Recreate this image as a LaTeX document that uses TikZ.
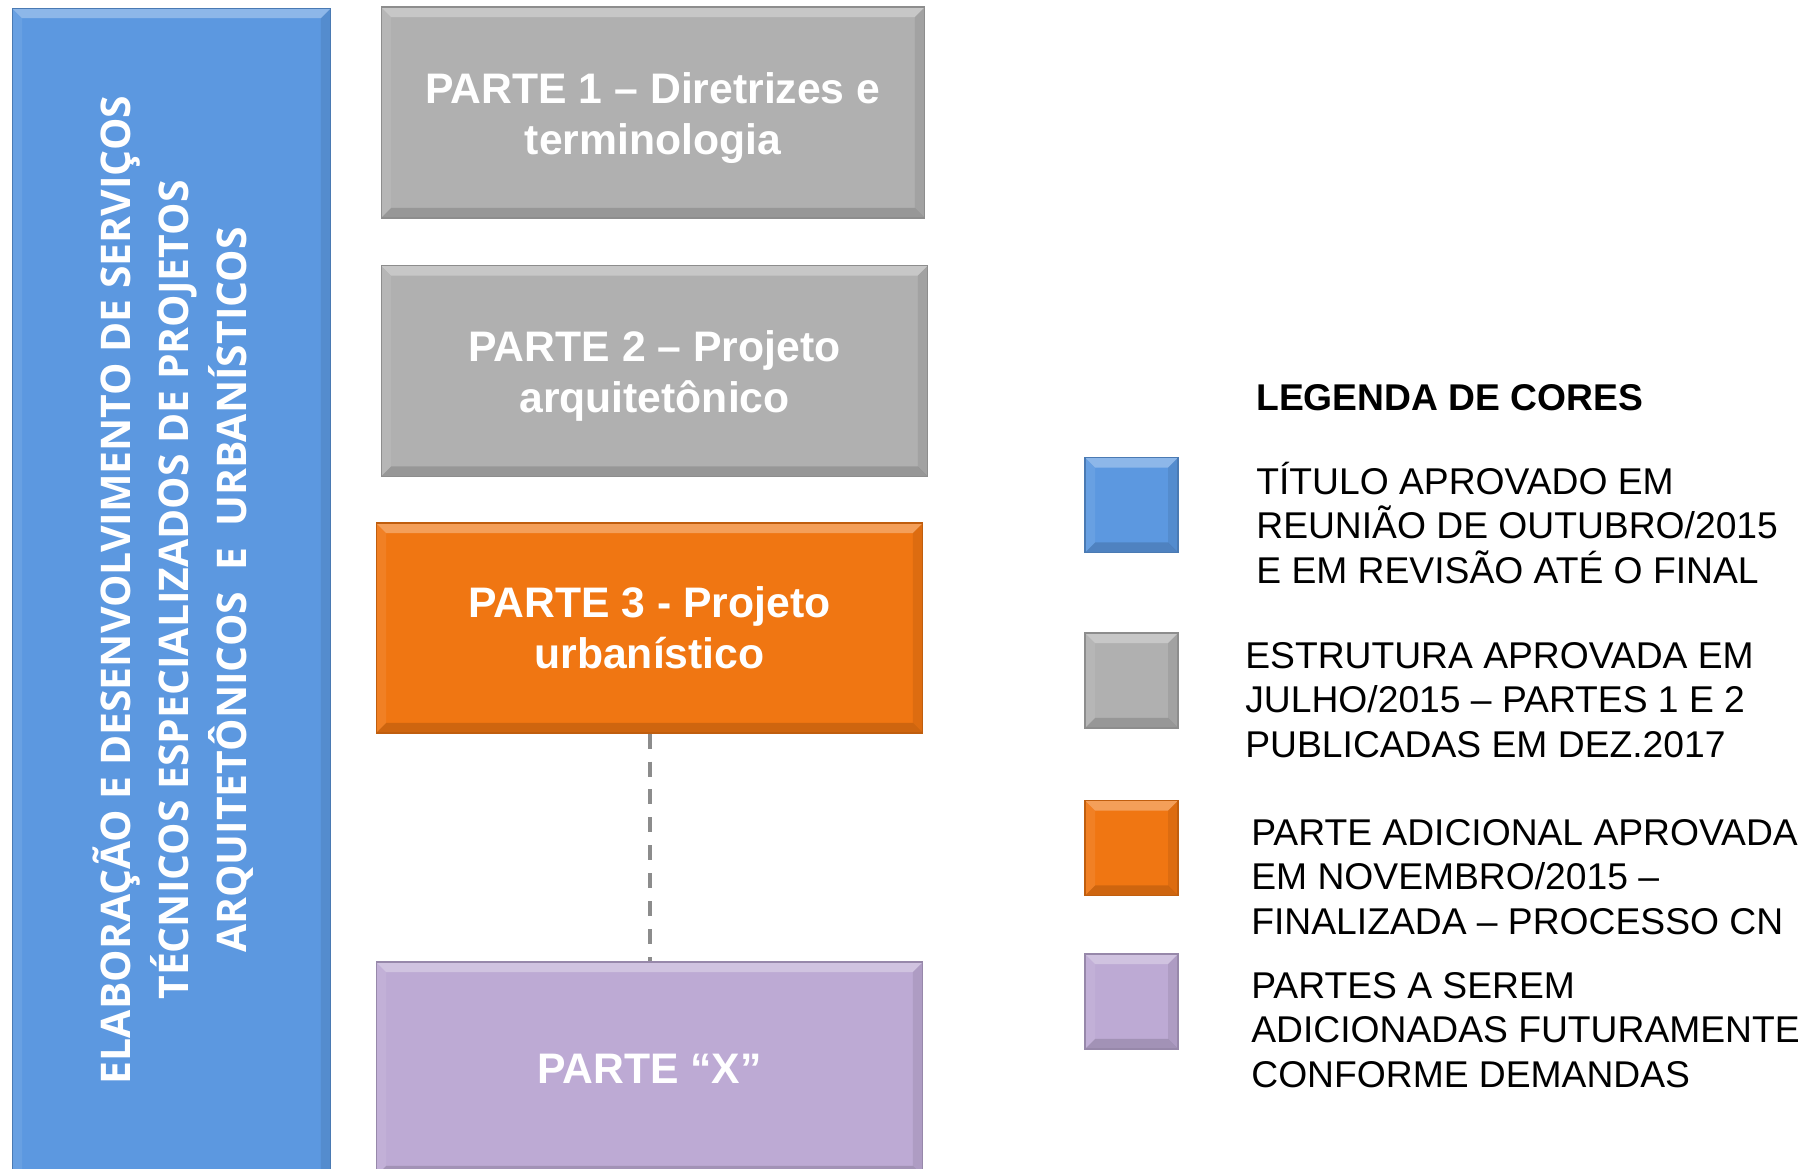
\documentclass[tikz,border=0pt]{standalone}
\usepackage{fontspec}
\setmainfont{Liberation Sans}
\newfontfamily\sidefont{Open Sans}
\definecolor{barblue}{HTML}{5C98E0}
\definecolor{partgray}{HTML}{B0B0B0}
\definecolor{partorange}{HTML}{F07612}
\definecolor{partpurple}{HTML}{BDAAD4}
\definecolor{dashgray}{HTML}{8C8C8C}
\newcommand{\pbb}{path picture bounding box}

\begin{document}
\begin{tikzpicture}[x=0.02cm,y=-0.02cm,
  bevel/.style={path picture={
    \fill[white,opacity=0.3] (\pbb.north west) -- (\pbb.north east) -- ([xshift=-0.2cm,yshift=-0.2cm]\pbb.north east) -- ([xshift=0.2cm,yshift=-0.2cm]\pbb.north west) -- cycle;
    \fill[white,opacity=0.08] (\pbb.north west) -- ([xshift=0.2cm,yshift=-0.2cm]\pbb.north west) -- ([xshift=0.2cm,yshift=0.2cm]\pbb.south west) -- (\pbb.south west) -- cycle;
    \fill[black,opacity=0.08] (\pbb.north east) -- ([xshift=-0.2cm,yshift=-0.2cm]\pbb.north east) -- ([xshift=-0.2cm,yshift=0.2cm]\pbb.south east) -- (\pbb.south east) -- cycle;
    \fill[black,opacity=0.14] (\pbb.south west) -- ([xshift=0.2cm,yshift=0.2cm]\pbb.south west) -- ([xshift=-0.2cm,yshift=0.2cm]\pbb.south east) -- (\pbb.south east) -- cycle;
  }},
  partbox/.style={bevel, draw=#1!80!black, line width=0.6pt, fill=#1, text=white, align=center, inner sep=0pt, minimum width=10.94cm, minimum height=4.22cm, font=\bfseries\fontsize{24.3pt}{29pt}\selectfont},
  keybox/.style={bevel, draw=#1!80!black, line width=0.6pt, fill=#1, inner sep=0pt, minimum width=1.86cm, minimum height=1.9cm},
  keytext/.style={anchor=west, align=left, inner sep=0pt, font=\fontsize{21.2pt}{25.5pt}\selectfont}]
\useasboundingbox (0,0) rectangle (1810,1169);
\clip (0,0) rectangle (1810,1169);
\node[bevel, draw=barblue!80!black, line width=0.6pt, fill=barblue, inner sep=0pt, minimum width=6.38cm, minimum height=23.54cm] (bar) at (171.5,596.5) {};
\node[rotate=90, align=center, text=white, font=\sidefont\bfseries\fontsize{23.25pt}{33pt}\selectfont] (bartext) at (173,590) {ELABORAÇÃO E DESENVOLVIMENTO DE SERVIÇOS\\TÉCNICOS ESPECIALIZADOS DE PROJETOS\\ARQUITETÔNICOS\ \ E\ \ URBANÍSTICOS};
\node[partbox=partgray, minimum width=10.88cm, text height=1.86cm] (part1) at (653,112.5) {PARTE 1 – Diretrizes e\\terminologia};
\node[partbox=partgray, text height=1.82cm] (part2) at (654.5,371) {PARTE 2 – Projeto\\arquitetônico};
\node[partbox=partorange, minimum height=4.2cm] (part3) at (649.5,628) {PARTE 3 - Projeto\\urbanístico};
\node[partbox=partpurple, minimum height=4.28cm] (partx) at (649.5,1069) {PARTE “X”};
\path[draw,dashgray,line width=0.08cm,dash pattern=on 0.3cm off 0.26cm] (part3) -- (partx);
\node[keytext, font=\bfseries\fontsize{21.2pt}{25.5pt}\selectfont] (keytitle) at (1256,398) {LEGENDA DE CORES};
\node[keybox=barblue] (keyblue) at (1131.5,505) {};
\node[keybox=partgray] (keygray) at (1131.5,680.5) {};
\node[keybox=partorange] (keyorange) at (1131.5,848) {};
\node[keybox=partpurple] (keypurple) at (1131.5,1001.5) {};
\node[keytext] (txtblue) at (1256,523) {TÍTULO APROVADO EM\\REUNIÃO DE OUTUBRO/2015\\E EM REVISÃO ATÉ O FINAL};
\node[keytext] (txtgray) at (1245,700) {ESTRUTURA APROVADA EM\\JULHO/2015 – PARTES 1 E 2\\PUBLICADAS EM DEZ.2017};
\node[keytext] (txtorange) at (1251,877) {PARTE ADICIONAL APROVADA\\EM NOVEMBRO/2015 –\\FINALIZADA – PROCESSO CN};
\node[keytext] (txtpurple) at (1251,1030) {PARTES A SEREM\\ADICIONADAS FUTURAMENTE\\CONFORME DEMANDAS};
\end{tikzpicture}
\end{document}
